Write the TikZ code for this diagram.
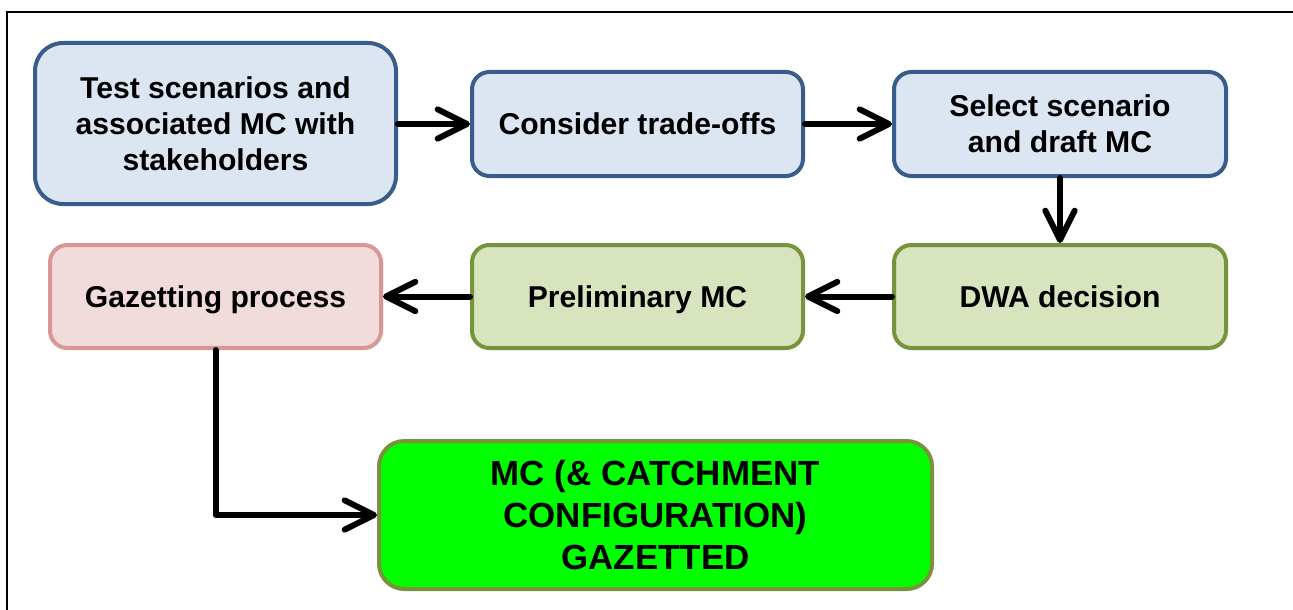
\documentclass[tikz,border=0pt]{standalone}
\usepackage{fontspec}
\setmainfont{Liberation Sans}
\usetikzlibrary{arrows.meta}
\definecolor{bluefill}{HTML}{DCE6F2}
\definecolor{blueline}{HTML}{385D8A}
\definecolor{pinkfill}{HTML}{F2DCDB}
\definecolor{pinkline}{HTML}{D99694}
\definecolor{greenfill}{HTML}{D7E4BD}
\definecolor{greenline}{HTML}{77933C}
\definecolor{brightgreen}{HTML}{00FF00}
\tikzset{
  box/.style={draw, line width=3pt, align=center, inner sep=0pt,
    font=\bfseries\fontsize{22.6}{27}\selectfont, text=black},
  oneline/.style={text height=16.5pt, text depth=0pt},
  bluebox/.style={box, fill=bluefill, draw=blueline},
  pinkbox/.style={box, fill=pinkfill, draw=pinkline},
  greenbox/.style={box, fill=greenfill, draw=greenline},
  flow/.style={line width=4.5pt, line cap=round, line join=round,
    -{Straight Barb[length=22pt,width=22pt,line cap=round,line join=round]}},
}
\begin{document}
\begin{tikzpicture}[x=0.75pt,y=-0.75pt]
\useasboundingbox (0,0) rectangle (1293,610);
\draw[line width=1.6pt] (7,615) -- (7,12) -- (1300,12);
\node[bluebox, minimum width=270.75pt, minimum height=120.75pt, rounded corners=21pt]
  (test) at (215.5,123.5) {Test scenarios and\\associated MC with\\stakeholders};
\node[bluebox, oneline, minimum width=248.25pt, minimum height=78pt, rounded corners=13pt]
  (trade) at (637.5,124) {Consider trade-offs};
\node[bluebox, minimum width=249pt, minimum height=78pt, rounded corners=13pt]
  (select) at (1060,124) {Select scenario\\and draft MC};
\node[pinkbox, oneline, minimum width=248.25pt, minimum height=77.25pt, rounded corners=13pt]
  (gaz) at (215.5,296.5) {Gazetting process};
\node[greenbox, oneline, minimum width=248.25pt, minimum height=77.25pt, rounded corners=13pt]
  (prelim) at (637.5,296.5) {Preliminary MC};
\node[greenbox, oneline, minimum width=249pt, minimum height=77.25pt, rounded corners=13pt]
  (dwa) at (1060,296.5) {DWA decision};
\node[box, fill=brightgreen, draw=greenline, minimum width=414.75pt, minimum height=111pt,
  rounded corners=19pt, font=\bfseries\fontsize{26.2}{31.5}\selectfont]
  (final) at (655.5,515) {MC (\& CATCHMENT\\CONFIGURATION)\\GAZETTED};
\draw[flow] (test.east |- trade.west) -- (trade.west);
\draw[flow] (trade) -- (select);
\draw[flow] (select) -- (dwa);
\draw[flow] (dwa) -- (prelim);
\draw[flow] (prelim) -- (gaz);
\draw[flow] (gaz.south) -- (gaz.south |- final.west) -- (final.west);
\end{tikzpicture}
\end{document}
